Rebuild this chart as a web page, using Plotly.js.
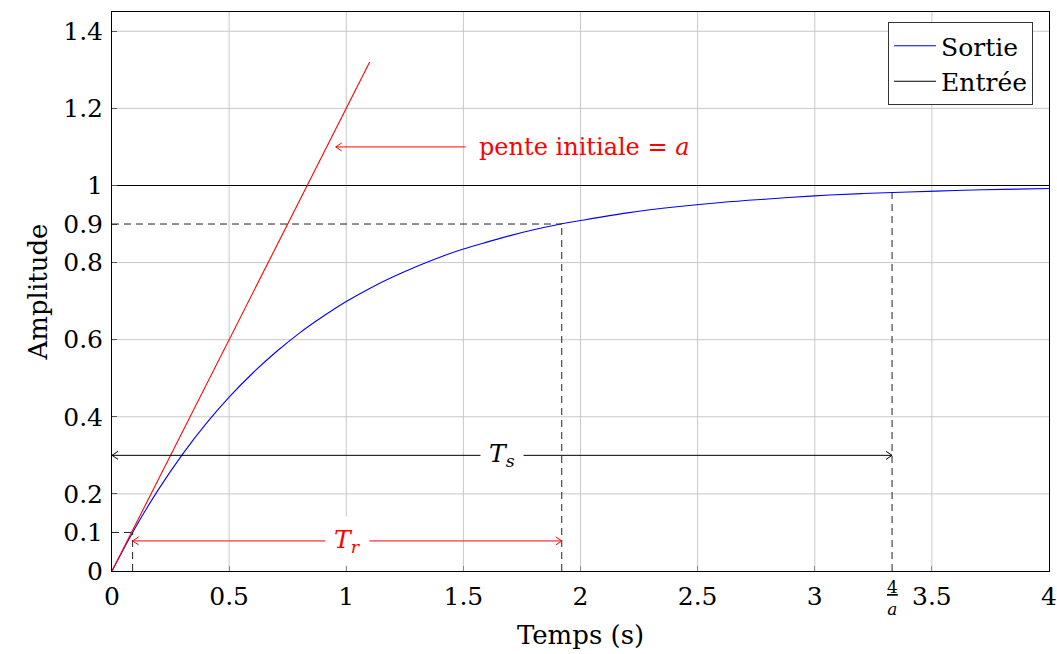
<!DOCTYPE html>
<html>
<head>
<meta charset="utf-8">
<script src="https://cdn.plot.ly/plotly-3.0.1.min.js"></script>
<style>html,body{margin:0;padding:0;background:#fff;}#chart{width:1057px;height:654px;}</style>
</head>
<body>
<div id="chart"></div>
<script>
// Step response
const timeS = [0,0.1,0.2,0.3,0.4,0.5,0.6,0.7,0.8,0.9,1.0,1.1,1.2,1.3,1.4,1.5,1.6,1.7,1.8,1.9,2.0,2.2,2.4,2.6,2.8,3.0,3.2,3.4,3.6,3.8,4.0];
const sortie = [0,0.113,0.213,0.302,0.381,0.451,0.513,0.568,0.617,0.660,0.699,0.733,0.763,0.790,0.814,0.835,0.853,0.870,0.885,0.898,0.909,0.929,0.944,0.956,0.965,0.973,0.979,0.983,0.987,0.990,0.992];
const entreeX = [0, 4];
const entreeY = [1, 1];
const penteX = [0, 1.1];
const penteY = [0, 1.32];
// Characteristic points
const t10 = 0.088, t90 = 1.92, tS = 3.33;
const y10 = 0.1, y90 = 0.9, yS = 0.982;
// Annotation anchors
const penteArrowTip = 0.955, penteLevel = 1.1, penteLabelX = 2.015;
const tsLevel = 0.3, trLevel = 0.078;
// Ticks
const xTicks = [0,0.5,1,1.5,2,2.5,3,3.5,4];
const xTickText = ['0','0.5','1','1.5','2','2.5','3','3.5','4'];
const xGrid = [0.5,1,1.5,2,2.5,3,3.5];
const yTicks = [0,0.1,0.2,0.4,0.6,0.8,0.9,1,1.2,1.4];
const yTickText = ['0','0.1','0.2','0.4','0.6','0.8','0.9','1','1.2','1.4'];
const yGrid = [0.2,0.4,0.6,0.8,1.2,1.4];

const FONT = 'DejaVu Serif, Liberation Serif, serif';
const GRID = '#c8c8c8';

const traces = [
  {x: timeS, y: sortie, mode: 'lines', name: 'Sortie', line: {color: '#0000ff', width: 1.1, shape: 'spline'}},
  {x: entreeX, y: entreeY, mode: 'lines', name: 'Entrée', line: {color: '#000', width: 1.1}},
  {x: penteX, y: penteY, mode: 'lines', showlegend: false, line: {color: '#ff0000', width: 1.1}}
];

const shapes = [];
xGrid.forEach(v => shapes.push({type: 'line', xref: 'x', yref: 'paper', x0: v, x1: v, y0: 0, y1: 1, layer: 'below', line: {color: GRID, width: 1}}));
yGrid.forEach(v => shapes.push({type: 'line', xref: 'paper', yref: 'y', x0: 0, x1: 1, y0: v, y1: v, layer: 'below', line: {color: GRID, width: 1}}));
const dashed = {color: '#222', width: 1, dash: '7px,5px'};
shapes.push({type: 'line', xref: 'x', yref: 'y', x0: 0, x1: t90, y0: y90, y1: y90, line: dashed});
shapes.push({type: 'line', xref: 'x', yref: 'y', x0: t90, x1: t90, y0: 0, y1: y90, line: dashed});
shapes.push({type: 'line', xref: 'x', yref: 'y', x0: tS, x1: tS, y0: 0, y1: yS, line: dashed});
shapes.push({type: 'line', xref: 'x', yref: 'y', x0: t10, x1: t10, y0: 0, y1: y10, line: dashed});
shapes.push({type: 'line', xref: 'x', yref: 'y', x0: 0, x1: t10, y0: y10, y1: y10, line: dashed});

function arrowLine(xa, xb, y, color) {
  shapes.push({type: 'line', xref: 'x', yref: 'y', x0: xa, x1: xb, y0: y, y1: y, line: {color: color, width: 1}});
}
function chevron(x, y, dir, color) {
  // dir = -1 points left, +1 points right
  [4, -4].forEach(dy => shapes.push({
    type: 'line', xref: 'x', yref: 'y', xsizemode: 'pixel', ysizemode: 'pixel',
    xanchor: x, yanchor: y, x0: 0, y0: 0, x1: -dir * 6, y1: dy,
    line: {color: color, width: 1}
  }));
}
// pente initiale arrow
arrowLine(penteArrowTip, 1.51, penteLevel, '#ff0000');
chevron(penteArrowTip, penteLevel, -1, '#ff0000');
// Ts arrow
arrowLine(0, tS, tsLevel, '#000');
chevron(0, tsLevel, -1, '#000');
chevron(tS, tsLevel, 1, '#000');
// Tr arrow
arrowLine(t10, t90, trLevel, '#ff0000');
chevron(t10, trLevel, -1, '#ff0000');
chevron(t90, trLevel, 1, '#ff0000');

const annotations = [
  {x: penteLabelX, y: penteLevel, xref: 'x', yref: 'y', text: 'pente initiale = <i>a</i>', showarrow: false, font: {family: FONT, size: 24, color: '#ff0000'}},
  {x: tS / 2, y: tsLevel, xref: 'x', yref: 'y', text: '<i>T<sub>s</sub></i>', showarrow: false, bgcolor: '#fff', borderpad: 8, font: {family: FONT, size: 25, color: '#000'}},
  {x: (t10 + t90) / 2, y: trLevel, xref: 'x', yref: 'y', text: '<i>T<sub>r</sub></i>', showarrow: false, bgcolor: '#fff', borderpad: 8, font: {family: FONT, size: 25, color: '#ff0000'}},
  {x: tS, y: 0, xref: 'x', yref: 'paper', yanchor: 'top', yshift: -4, text: '<span style="text-decoration:underline">4</span><br><i>a</i>', showarrow: false, font: {family: FONT, size: 17, color: '#000'}}
];

const layout = {
  width: 1057, height: 654,
  margin: {l: 112, r: 8, t: 12, b: 83},
  paper_bgcolor: '#fff', plot_bgcolor: '#fff',
  font: {family: FONT, size: 25, color: '#000'},
  showlegend: true,
  legend: {x: 0.983, y: 0.982, xanchor: 'right', yanchor: 'top', bgcolor: '#fff', bordercolor: '#333', borderwidth: 1, font: {family: FONT, size: 25}, itemwidth: 42, tracegroupgap: 0},
  xaxis: {range: [0, 4], tickvals: xTicks, ticktext: xTickText, showgrid: false, zeroline: false, showline: true, mirror: true, linecolor: '#000', linewidth: 1, ticks: 'inside', ticklen: 5, tickcolor: '#888', ticklabelstandoff: 3, title: {text: 'Temps (s)', font: {family: FONT, size: 26}, standoff: 15}, tickfont: {family: FONT, size: 25}},
  yaxis: {range: [0, 1.45], tickvals: yTicks, ticktext: yTickText, showgrid: false, zeroline: false, showline: true, mirror: true, linecolor: '#000', linewidth: 1, ticks: 'inside', ticklen: 5, tickcolor: '#555', ticklabelstandoff: 3, title: {text: 'Amplitude', font: {family: FONT, size: 26}, standoff: 8}, tickfont: {family: FONT, size: 25}},
  shapes: shapes,
  annotations: annotations
};

Plotly.newPlot('chart', traces, layout, {displayModeBar: false, staticPlot: true});
</script>
</body>
</html>
